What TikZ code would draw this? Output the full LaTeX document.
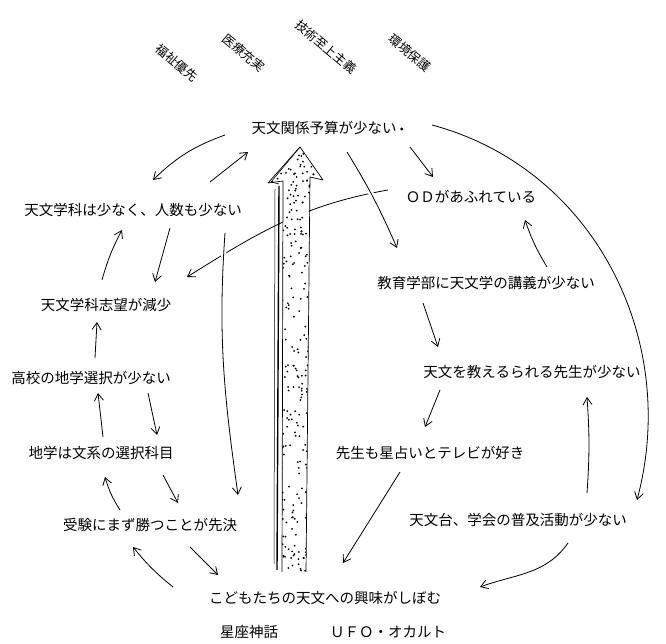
\documentclass[tikz,border=0pt]{standalone}
\usepackage{fontspec}
\newfontfamily\jpfont{Noto Sans CJK JP}
\usetikzlibrary{arrows.meta}

\begin{document}
\begin{tikzpicture}[x=1pt, y=1pt,
      fact/.style={font=\jpfont\fontsize{14.5}{16}\selectfont, inner sep=2pt},
      tilt/.style={font=\jpfont\fontsize{12.5}{14}\selectfont, rotate=-40, inner sep=1pt},
      cause/.style={-{Straight Barb[length=7pt,width=9pt]}, line width=0.8pt},
      cut/.style={preaction={draw=white, line width=5pt, -}}]
    \useasboundingbox (0,0) rectangle (666,644);
    % policy labels:
    \node[tilt] (welfare) at (177,581) {福祉優先};
    \node[tilt] (medical) at (244,591) {医療充実};
    \node[tilt] (techno) at (326,597) {技術至上主義};
    \node[tilt] (environ) at (410,591) {環境保護};
    % facts:
    \node[fact] (budget) at (324,516) {天文関係予算が少ない};
    \fill (budget.east) ++(3,-1) circle (1.6); % stray dot
    \node[fact] (dept) at (133,434) {天文学科は少なく、人数も少ない};
    \node[fact] (od) at (471,447) {ＯＤがあふれている};
    \node[fact] (shibou) at (106,339) {天文学科志望が減少};
    \node[fact] (kyoiku) at (486,361) {教育学部に天文学の講義が少ない};
    \node[fact] (koko) at (91,266) {高校の地学選択が少ない};
    \node[fact] (sensei) at (532,272) {天文を教えるられる先生が少ない};
    \node[fact] (chigaku) at (101,191) {地学は文系の選択科目};
    \node[fact] (uranai) at (430,191) {先生も星占いとテレビが好き};
    \node[fact] (juken) at (150,119) {受験にまず勝つことが先決};
    \node[fact] (fukyu) at (518,124) {天文台、学会の普及活動が少ない};
    \node[fact] (kodomo) at (325,46) {こどもたちの天文への興味がしぼむ};
    \node[fact] (seiza) at (249,12) {星座神話};
    \node[fact] (ufo) at (388,12) {ＵＦＯ・オカルト};
    % left loop
    \draw[cause] ([shift={(-99,-7)}]budget.center) to[bend right=12] ([shift={(20,30)}]dept.center);
    \draw[cause] ([shift={(77,28)}]dept.center) -- ([shift={(-76,-24)}]budget.center);
    \draw[cause] ([shift={(37,-18)}]dept.center) -- ([shift={(49,23)}]shibou.center);
    \draw[cause] ([shift={(-4,25)}]shibou.center) to[bend left=6] ([shift={(-11,-20)}]dept.center);
    \draw[cause] ([shift={(-83,7)}]od.center) to[out=190,in=32] ([shift={(81,28)}]shibou.center);
    \draw[cause] ([shift={(4,20)}]koko.center) -- ([shift={(-9,-17)}]shibou.center);
    \draw[cause] ([shift={(2,16)}]chigaku.center) -- ([shift={(7,-15)}]koko.center);
    \draw[cause] ([shift={(57,-15)}]koko.center) -- ([shift={(56,18)}]chigaku.center);
    \draw[cause] ([shift={(-30,15)}]juken.center) to[bend left=8] ([shift={(4,-24)}]chigaku.center);
    \draw[cause] ([shift={(62,-22)}]chigaku.center) -- ([shift={(28,22)}]juken.center);
    \draw[cause] ([shift={(-152,11)}]kodomo.center) to[bend left=6] ([shift={(-17,-22)}]juken.center);
    \draw[cause] ([shift={(40,-22)}]juken.center) -- ([shift={(-107,23)}]kodomo.center);
    \draw[cause, cut] ([shift={(92,-23)}]dept.center) to[out=266,in=98] ([shift={(88,30)}]juken.center);
    % right loop
    \draw[cause] ([shift={(86,-19)}]budget.center) -- ([shift={(-38,20)}]od.center);
    \draw[cause, cut] ([shift={(23,-24)}]budget.center) to[bend left=4] ([shift={(-89,35)}]kyoiku.center);
    \draw[cause] ([shift={(61,16)}]kyoiku.center) to[bend left=6] ([shift={(54,-23)}]od.center);
    \draw[cause] ([shift={(108,3)}]budget.center) to[out=-15,in=75] ([shift={(119,20)}]fukyu.center);
    \draw[cause] ([shift={(-63,-20)}]kyoiku.center) -- ([shift={(-94,25)}]sensei.center);
    \draw[cause] ([shift={(-92,-18)}]sensei.center) -- ([shift={(-5,26)}]uranai.center);
    \draw[cause] ([shift={(69,27)}]fukyu.center) to[bend right=4] ([shift={(55,-25)}]sensei.center);
    \draw[cause] ([shift={(-30,-19)}]uranai.center) -- ([shift={(18,35)}]kodomo.center);
    \draw[cause] ([shift={(50,-23)}]fukyu.center) to[out=235,in=20] ([shift={(155,11)}]kodomo.center);
    % big arrow
    \fill[white] (300,497) -- (323,464) -- (310,467) -- (306,70) -- (282,70) -- (283,463) -- (268,461) -- cycle;
    \begin{scope}
      \clip (300,497) -- (323,464) -- (310,467) -- (306,64) -- (282,64) -- (283,463) -- (268,461) -- cycle;
      \pgfmathsetseed{17}
      \foreach \i in {1,...,480}{
        \pgfmathsetmacro\dx{268+rnd*56}
        \pgfmathsetmacro\dy{64+rnd*434}
        \fill (\dx,\dy) circle (1);
      }
    \end{scope}
    \draw[line width=0.7pt, line join=round] (306,72) -- (310,467) -- (323,464) -- (300,497) -- (268,461) -- (283,463) -- (282,72);
    \draw[line width=0.6pt] (300,497) -- (271,462) -- (279,460); % sketch outline
    \draw[line width=1.4pt] (279,458) -- (277,74);
    \draw[line width=0.5pt] (275,455) -- (274,80);
\end{tikzpicture}
\end{document}
